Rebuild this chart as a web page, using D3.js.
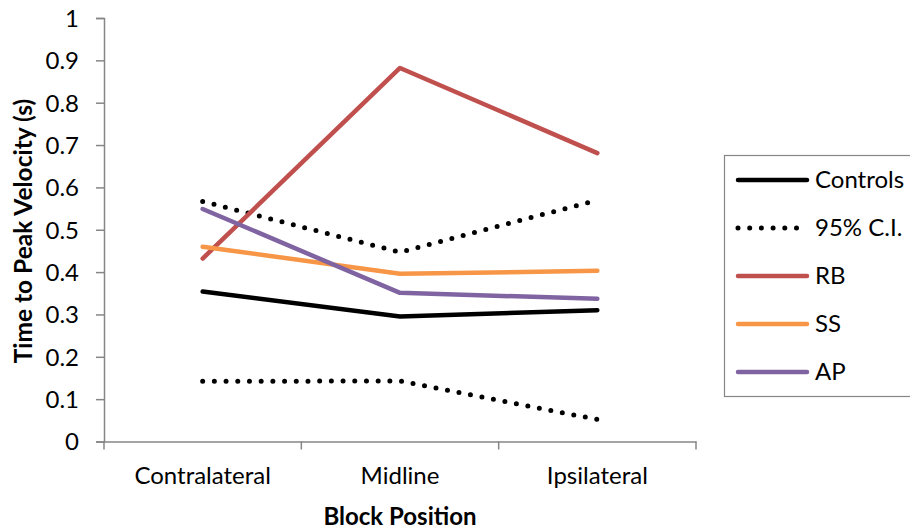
<!DOCTYPE html>
<html><head><meta charset="utf-8">
<script src="https://cdn.jsdelivr.net/npm/d3@7"></script>
<style>body{margin:0;background:#fff}svg{display:block}text{font-family:Lato,"Open Sans",sans-serif;fill:#000}</style>
</head><body><svg id="c" width="910" height="531"></svg>
<script>
const categories = ["Contralateral", "Midline", "Ipsilateral"];
const controls = [0.354, 0.295, 0.310];
const ciUpper = [0.567, 0.447, 0.570];
const ciLower = [0.142, 0.143, 0.052];
const rb = [0.432, 0.882, 0.681];
const ss = [0.460, 0.396, 0.403];
const ap = [0.549, 0.351, 0.337];
const yTicks = [0, 0.1, 0.2, 0.3, 0.4, 0.5, 0.6, 0.7, 0.8, 0.9, 1];
const legendLabels = ["Controls", "95% C.I.", "RB", "SS", "AP"];

const series = [
  {name: "Controls", values: controls, color: "#000000", dotted: false},
  {name: "95% C.I.", values: ciUpper, color: "#000000", dotted: true},
  {name: "95% C.I.", values: ciLower, color: "#000000", dotted: true},
  {name: "RB", values: rb, color: "#C0504D", dotted: false},
  {name: "SS", values: ss, color: "#F79646", dotted: false},
  {name: "AP", values: ap, color: "#8064A2", dotted: false}
];
const legendStyles = [
  {color: "#000000", dotted: false},
  {color: "#000000", dotted: true},
  {color: "#C0504D", dotted: false},
  {color: "#F79646", dotted: false},
  {color: "#8064A2", dotted: false}
];

const svg = d3.select("#c");
const mLeft = 104, mRight = 696, mTop = 18, mBottom = 441.5;
const x = d3.scaleBand().domain(categories).range([mLeft, mRight]).padding(0);
const y = d3.scaleLinear().domain([0, 1]).range([mBottom, mTop]);
const axisColor = "#868686";
const fs = 24;

// y axis
const ya = svg.append("g").attr("transform", `translate(${mLeft},0)`)
  .call(d3.axisLeft(y).tickValues(yTicks).tickSize(8).tickPadding(17).tickFormat(d3.format("")));
ya.select(".domain").attr("stroke", axisColor).attr("stroke-width", 1.5);
ya.selectAll(".tick line").attr("stroke", axisColor).attr("stroke-width", 1.5);
ya.selectAll(".tick text").attr("font-size", fs).attr("font-family", "Lato").attr("fill", "#000").attr("dy", "0.35em");

// x axis
const xa = svg.append("g").attr("transform", `translate(0,${mBottom})`)
  .call(d3.axisBottom(x).tickSize(0).tickPadding(25));
xa.select(".domain").attr("stroke", axisColor).attr("stroke-width", 1.5);
xa.selectAll(".tick text").attr("font-size", fs).attr("font-family", "Lato").attr("fill", "#000");
const bounds = categories.map(c => x(c)).concat([x.range()[1]]);
xa.selectAll(".bt").data(bounds).join("line").attr("class", "bt")
  .attr("x1", d => d).attr("x2", d => d).attr("y1", 0).attr("y2", 8)
  .attr("stroke", axisColor).attr("stroke-width", 1.5);

// titles
svg.append("text").attr("transform", `translate(32,231) rotate(-90)`)
  .attr("text-anchor", "middle").attr("font-size", 24.5).attr("font-weight", "bold").text("Time to Peak Velocity (s)");
svg.append("text").attr("x", x("Midline") + x.bandwidth() / 2).attr("y", 525)
  .attr("text-anchor", "middle").attr("font-size", 24).attr("font-weight", "bold").text("Block Position");

// lines
const line = d3.line().x((d, i) => x(categories[i]) + x.bandwidth() / 2).y(d => y(d));
svg.append("g").selectAll("path").data(series).join("path")
  .attr("d", d => line(d.values)).attr("fill", "none")
  .attr("stroke", d => d.color)
  .attr("stroke-width", d => d.dotted ? 5 : 4.5)
  .attr("stroke-linecap", "round").attr("stroke-linejoin", "round")
  .attr("stroke-dasharray", d => d.dotted ? "0 11.7" : null);

// legend
const lg = svg.append("g");
lg.append("rect").attr("x", 724.5).attr("y", 155.5).attr("width", 200).attr("height", 241)
  .attr("fill", "#fff").attr("stroke", axisColor).attr("stroke-width", 1.2);
const rowY = d3.scalePoint().domain(legendLabels).range([180, 372]);
legendLabels.forEach((lab, i) => {
  const st = legendStyles[i];
  const yy = rowY(lab);
  lg.append("line").attr("x1", 738).attr("x2", 807).attr("y1", yy).attr("y2", yy)
    .attr("stroke", st.color).attr("stroke-width", st.dotted ? 5 : 4.5)
    .attr("stroke-linecap", "round")
    .attr("stroke-dasharray", st.dotted ? "0 11.7" : null);
  lg.append("text").attr("x", 815).attr("y", yy).attr("dy", "0.35em")
    .attr("font-size", fs).text(lab);
});
</script></body></html>
